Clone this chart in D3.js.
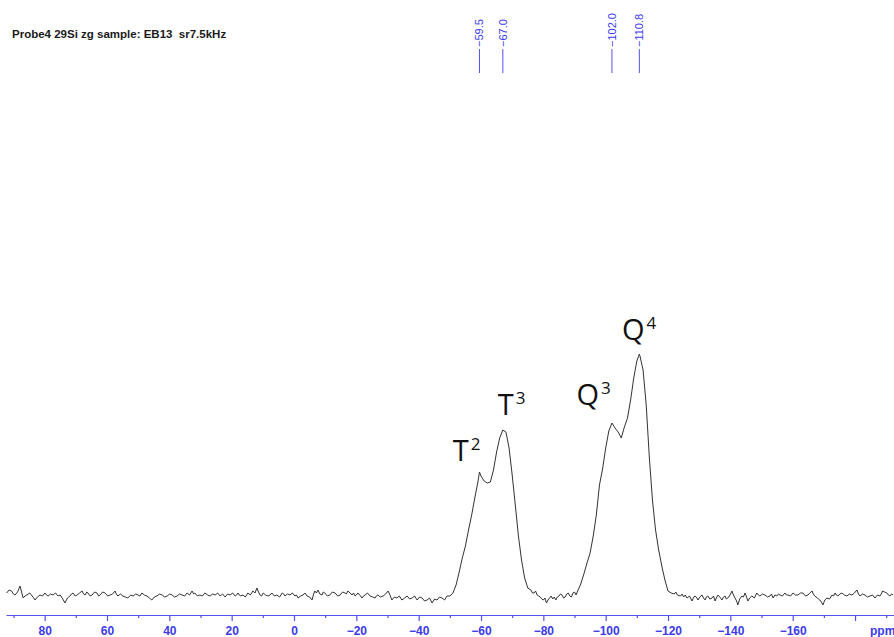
<!DOCTYPE html>
<html>
<head>
<meta charset="utf-8">
<script src="https://cdn.jsdelivr.net/npm/d3@7"></script>
<style>
  html, body { margin: 0; padding: 0; background: #fff; }
  svg { display: block; }
</style>
</head>
<body>
<svg id="chart" width="894" height="637"></svg>
<script>
// 29Si MAS NMR spectrum: [chemical shift (ppm), intensity (a.u.)]
const leftBaseline = [
  [92.2, 2], [91.4, 5], [90.6, 4], [90.0, 1], [89.5, 0], [88.7, 3], [87.9, 9], [87.4, 3], [86.9, -3], [86.3, -1],
  [85.7, 0], [84.8, 2], [84.0, -1], [83.5, -3], [83.1, -5], [82.3, -2], [81.5, 0], [80.7, -1], [79.9, 2], [79.4, 0],
  [78.9, -1], [78.1, 1], [77.3, 0], [76.5, 2], [75.7, -1], [75.0, 0], [74.4, -3], [74.0, -5], [73.5, -8], [72.7, -3],
  [71.9, -1], [71.4, 1], [70.9, 2], [70.2, -1], [69.6, 0], [68.8, 2], [68.0, 4], [67.5, 1], [67.0, 0], [66.5, 3],
  [66.1, 2], [65.4, -1], [64.8, 0], [64.0, 3], [63.2, 2], [62.7, -1], [62.2, 0], [61.4, 3], [60.6, 2], [59.8, -1],
  [59.0, 0], [58.2, 1], [57.4, 4], [57.0, 1], [56.5, -1], [55.7, 1], [54.9, -1], [54.1, -2], [53.3, -3], [52.4, 0],
  [51.6, -1], [50.8, 1], [50.0, 0], [49.4, -1], [48.8, 2], [48.0, 0], [47.2, -1], [46.4, -3], [45.6, -5], [44.8, -2],
  [44.0, -1], [43.1, 1], [42.3, 0], [41.5, -2], [40.7, -1], [39.9, 1], [39.1, 0], [38.3, -2], [37.5, -1], [36.7, 1],
  [35.9, 0], [35.1, -1], [34.3, 2], [33.5, 0], [32.7, 4], [32.2, 1], [31.8, 2], [31.0, -1], [30.2, 0], [29.4, -1],
  [28.6, 2], [27.7, 0], [26.9, -1], [26.1, 1], [25.3, 0], [24.5, 2], [23.7, -1], [22.9, 1], [22.1, -2], [21.3, 1],
  [20.5, 0], [19.7, 2], [18.9, -1], [18.4, 0], [18.0, 2], [17.2, -1], [16.4, 0], [15.6, -2], [14.8, 2], [14.0, 0],
  [13.2, 4], [12.5, 2], [11.9, 7], [11.4, 3], [10.9, 0], [10.4, -1], [9.9, 2], [9.1, 0], [8.3, -1], [7.7, 0],
  [7.1, 2], [6.3, -1], [5.5, 0], [4.6, -2], [3.8, 2], [3.3, 1], [2.9, -1], [2.1, 1], [1.3, 0], [0.5, 2],
  [-0.3, -1], [-0.8, 0], [-1.3, -3], [-2.1, -1], [-2.9, 0], [-3.5, 2], [-4.2, -1], [-5.0, -2], [-5.8, -5], [-6.2, 0],
  [-6.7, 4], [-7.2, 2], [-7.7, 5], [-8.3, 1], [-9.0, 0], [-9.4, 3], [-9.9, 2], [-10.7, -1], [-11.5, 0], [-12.3, 3],
  [-13.2, 2], [-14.0, -1], [-14.8, 0], [-15.6, 3], [-16.4, 2], [-16.8, 1], [-17.3, 4], [-18.0, 2], [-18.6, 0], [-19.1, 2],
  [-19.6, -1], [-20.0, 0], [-20.5, 2], [-21.1, 0], [-21.8, -3], [-22.3, -1], [-22.8, 0], [-23.6, 2], [-24.4, -1], [-25.2, -2],
  [-26.0, -3], [-26.4, -1], [-26.9, 0], [-27.7, -2], [-28.6, -1], [-29.4, 1], [-30.2, 4], [-30.8, 0], [-31.4, -5], [-32.2, -2],
  [-33.0, -3], [-33.8, -1], [-34.6, -5], [-35.5, -3], [-36.3, -1], [-37.1, -4], [-37.9, -3], [-38.7, -1], [-39.5, -5], [-40.3, -2],
  [-41.1, -3], [-41.9, -6], [-42.7, -5], [-43.5, -3], [-44.3, -8], [-45.1, -4], [-45.9, -5], [-46.7, -2], [-47.5, -3], [-48.3, -5],
  [-49.1, -1]
];

const siliconPeaks = [
  [-50, -1], [-51, 2], [-52, 10], [-53, 23], [-54, 37], [-55, 49], [-56, 65], [-57, 80], [-58, 97], [-59, 113],
  [-59.5, 123], [-60, 119], [-61, 114], [-62, 112], [-63, 113], [-64, 125], [-65, 143], [-66, 157], [-67, 165], [-68, 163],
  [-69, 147], [-70, 120], [-71, 90], [-72, 59], [-73, 35], [-74, 17], [-75, 7], [-76, 5], [-76.5, 2], [-77, 2],
  [-77.5, 4], [-78, 0], [-78.5, -1], [-79, -2], [-79.5, -4], [-80, -5], [-80.5, -3], [-81, -8], [-81.5, -5], [-82, -3],
  [-82.5, -1], [-83, -4], [-83.5, -2], [-84, -5], [-84.5, -2], [-85, -1], [-85.5, 1], [-86, 0], [-86.5, -3], [-87, -2],
  [-87.5, 1], [-88, 2], [-88.5, -1], [-89, -2], [-89.5, 2], [-90, 3], [-90.5, 0], [-91, 4], [-92, 11], [-93, 21],
  [-94, 32], [-95, 42], [-96, 59], [-97, 80], [-98, 110], [-99, 126], [-100, 147], [-101, 164], [-102, 172], [-103, 167],
  [-104, 163], [-105, 157], [-106, 168], [-107, 177], [-108, 195], [-109, 217], [-110, 234], [-110.8, 241], [-111, 239], [-112, 225],
  [-113, 190], [-114, 138], [-115, 95], [-116, 65], [-117, 45], [-118, 29], [-119, 15], [-120, 4], [-121, 2]
];

const rightBaseline = [
  [-122, 1], [-122.5, 3], [-123, 0], [-124, -1], [-124.5, 1], [-125, -2], [-125.5, 0], [-126.1, -3], [-126.9, -1], [-127.7, -6],
  [-128.1, -3], [-128.6, -1], [-129.1, -2], [-129.6, -5], [-130.2, -2], [-130.9, 0], [-131.4, -3], [-131.9, -5], [-132.3, -2], [-132.8, -1],
  [-133.4, -4], [-134.1, -3], [-134.6, -1], [-135.1, -6], [-135.5, -3], [-136.0, 0], [-136.6, -2], [-137.3, -5], [-137.8, -2], [-138.3, -1],
  [-138.7, -4], [-139.2, -3], [-139.9, 0], [-140.5, 4], [-141.0, 0], [-141.5, -3], [-142.0, -6], [-142.4, -10], [-143.0, -4], [-143.7, -1],
  [-144.2, -2], [-144.7, 2], [-145.1, -1], [-145.6, -6], [-146.2, -3], [-146.9, -1], [-147.7, -3], [-148.5, 2], [-149.0, 0], [-149.5, -1],
  [-150.3, 1], [-151.1, 0], [-151.9, -2], [-152.7, -1], [-153.2, 1], [-153.7, -3], [-154.3, 0], [-154.9, -1], [-155.4, 1], [-155.9, 0],
  [-156.7, -1], [-157.5, 2], [-158.0, 0], [-158.5, 0], [-159.3, -1], [-160.1, 2], [-160.9, 0], [-161.7, 0], [-162.5, 2], [-163.3, 2],
  [-164.1, -1], [-164.9, 0], [-165.5, 2], [-166.2, 4], [-166.6, 1], [-167.1, -1], [-167.9, -3], [-168.7, -5], [-169.2, -7], [-169.7, -10],
  [-170.3, -5], [-171.0, -3], [-171.8, -4], [-172.6, 0], [-173.1, -1], [-173.6, 2], [-174.0, 0], [-174.5, -1], [-175.1, 1], [-175.8, 2],
  [-176.6, 0], [-177.4, -1], [-178.2, 1], [-179.0, 0], [-179.8, 2], [-180.6, 5], [-181.1, 1], [-181.6, -1], [-182.4, 1], [-183.2, 0],
  [-184.0, -2], [-184.8, -1], [-185.6, 0], [-186.4, -3], [-187.2, 0], [-188.0, -1], [-188.4, 1], [-188.9, 4], [-189.5, 3], [-190.2, 2],
  [-190.7, 0], [-191.2, -1], [-191.7, 1], [-192.2, 0]
];

// Picked peak positions (ppm)
const peakShifts = [-59.5, -67.0, -102.0, -110.8];

// Axis ticks (ppm)
const majorTicks = [80, 60, 40, 20, 0, -20, -40, -60, -80, -100, -120, -140, -160, -180];
const minorTicks = [90, 70, 50, 30, 10, -10, -30, -50, -70, -90, -110, -130, -150, -170, -190];

// Silicon site assignments: letter, superscript, anchor shift and anchor level
const siteLetters = ["T", "T", "Q", "Q"];
const siteOrders = ["2", "3", "3", "4"];
const siteShift = [-50.9, -65.4, -90.6, -105.2];
const siteLevel = [134, 180, 190, 255];

const titleText = "Probe4 29Si zg sample: EB13  sr7.5kHz";
const unitText = "ppm";

const svg = d3.select("#chart");

const x = d3.scaleLinear().domain([92.4, -192.5]).range([6, 894]);
const y = d3.scaleLinear().domain([0, 250]).range([595, 345]);

const blue = "#3b3bec";
const lineBlue = "#5252ee";
const sans = "Liberation Sans, Arial, sans-serif";

// Title
svg.append("text")
  .attr("x", 12).attr("y", 38)
  .attr("font-family", sans)
  .attr("font-size", 11.5).attr("font-weight", "bold")
  .attr("fill", "#1a1a1a")
  .style("white-space", "pre")
  .text(titleText);

// Peak-pick markers
const fmt = d3.format(".1f");
const pk = svg.append("g");
pk.selectAll("line").data(peakShifts).join("line")
  .attr("x1", d => x(d)).attr("x2", d => x(d))
  .attr("y1", 49).attr("y2", 73)
  .attr("stroke", lineBlue).attr("stroke-width", 1);
pk.selectAll("text").data(peakShifts).join("text")
  .attr("transform", d => `translate(${x(d)},47) rotate(-90)`)
  .attr("dy", "0.35em")
  .attr("font-family", sans)
  .attr("font-size", 11)
  .attr("fill", blue)
  .text(d => fmt(d));

// Spectrum trace
const pts = leftBaseline.concat(siliconPeaks, rightBaseline);
svg.append("path")
  .datum(pts)
  .attr("fill", "none")
  .attr("stroke", "#333")
  .attr("stroke-width", 1)
  .attr("stroke-linejoin", "round")
  .attr("d", d3.line().x(d => x(d[0])).y(d => y(d[1])));

// Site labels
const lab = svg.append("g")
  .attr("font-family", "Open Sans, Noto Sans, sans-serif")
  .attr("fill", "#111");
siteLetters.forEach((l, i) => {
  const t = lab.append("text")
    .attr("x", x(siteShift[i])).attr("y", y(siteLevel[i]))
    .attr("font-size", 29);
  t.append("tspan").text(l);
  t.append("tspan").attr("dx", 2).attr("dy", -11).attr("font-size", 17).text(siteOrders[i]);
});

// Chemical shift axis
const axisG = svg.append("g").attr("transform", "translate(0,615)");
axisG.call(d3.axisBottom(x).tickValues(majorTicks).tickSize(6).tickSizeOuter(0).tickPadding(5.5)
  .tickFormat(d => d === -180 ? "" : d3.format("d")(d)));
const minorG = svg.append("g").attr("transform", "translate(0,615)");
minorG.call(d3.axisBottom(x).tickValues(minorTicks).tickSize(3).tickSizeOuter(0).tickFormat(""));
minorG.select(".domain").remove();
[axisG, minorG].forEach(g => {
  g.selectAll("path, line").attr("stroke", lineBlue).attr("stroke-width", 1.2);
});
axisG.selectAll("text")
  .attr("font-family", sans)
  .attr("font-size", 12).attr("font-weight", "bold")
  .attr("fill", blue);

svg.append("text")
  .attr("x", 870).attr("y", 635)
  .attr("font-family", sans)
  .attr("font-size", 12).attr("font-weight", "bold")
  .attr("fill", blue)
  .text(unitText);
</script>
</body>
</html>
